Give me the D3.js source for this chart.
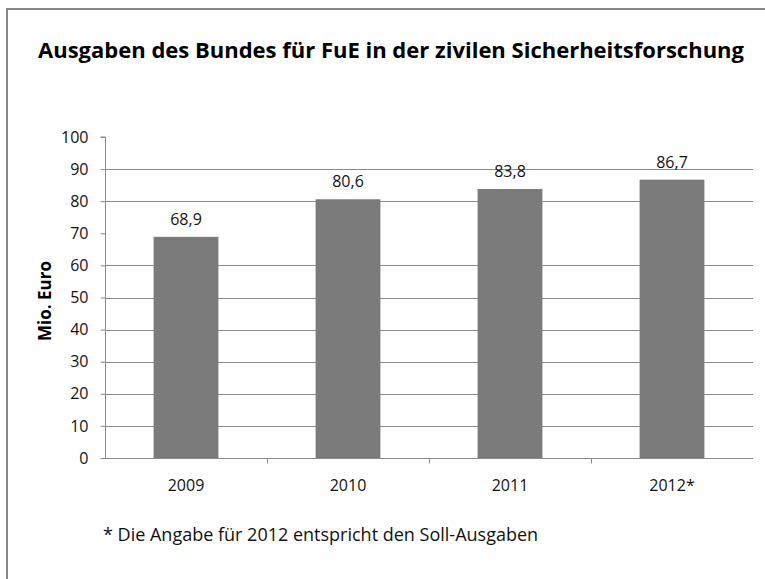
<!DOCTYPE html>
<html><head><meta charset="utf-8">
<script src="https://cdn.jsdelivr.net/npm/d3@7"></script>
<style>body{margin:0;background:#fff}svg{display:block}text{font-family:"Open Sans",sans-serif}</style>
</head><body><svg id="c" width="765" height="579"></svg>
<script>
const categories = ["2009", "2010", "2011", "2012*"];
const values = [68.9, 80.6, 83.8, 86.7];
const valueLabels = ["68,9", "80,6", "83,8", "86,7"];
const yTicks = [0, 10, 20, 30, 40, 50, 60, 70, 80, 90, 100];
const gridTicks = [10, 20, 30, 40, 50, 60, 80, 90];
const title = "Ausgaben des Bundes für FuE in der zivilen Sicherheitsforschung";
const yTitle = "Mio. Euro";
const footnote = "* Die Angabe für 2012 entspricht den Soll-Ausgaben";

(function () {
const svg = d3.select("#c");
const W = 765, H = 579;
const pLeft = 105, pRight = 753, pTop = 137, pBottom = 458;

// outer frame (only top and left edges visible)
svg.append("path").attr("d", `M7,${H} L7,9 L${W},9`).attr("fill", "none")
  .attr("stroke", "#868686").attr("stroke-width", 2);

const x = d3.scaleBand().domain(categories).range([pLeft, pRight]).paddingInner(0.6).paddingOuter(0.3);
const xb = d3.scaleBand().domain(categories).range([pLeft, pRight]);
const y = d3.scaleLinear().domain([0, 100]).range([pBottom, pTop]);

// gridlines
svg.append("g").selectAll("line").data(gridTicks).join("line")
  .attr("x1", pLeft).attr("x2", pRight)
  .attr("y1", d => Math.round(y(d)) + 0.5).attr("y2", d => Math.round(y(d)) + 0.5)
  .attr("stroke", "#8a8a8a").attr("stroke-width", 1);

// bars
svg.append("g").selectAll("rect").data(values).join("rect")
  .attr("x", (d, i) => x(categories[i]))
  .attr("width", x.bandwidth())
  .attr("y", d => y(d))
  .attr("height", d => y(0) - y(d))
  .attr("fill", "#7a7a7a");

// value labels
svg.append("g").selectAll("text").data(values).join("text")
  .attr("x", (d, i) => x(categories[i]) + x.bandwidth() / 2)
  .attr("y", d => y(d) - 12)
  .attr("text-anchor", "middle").attr("font-size", 16).attr("fill", "#111")
  .text((d, i) => valueLabels[i]);

// y axis
const yAxis = d3.axisLeft(y).tickValues(yTicks).tickSize(5).tickPadding(12).tickFormat(d3.format("d"));
const gy = svg.append("g").attr("transform", `translate(${pLeft + 0.5},0)`).call(yAxis);
gy.select(".domain").attr("stroke", "#8a8a8a").attr("d", `M-5,${y(100)}H0V${y(0)}`);
gy.selectAll(".tick line").attr("stroke", "#8a8a8a");
gy.selectAll(".tick text").attr("font-size", 16).attr("fill", "#111").attr("font-family", "Open Sans");

// x axis
const gx = svg.append("g").attr("transform", `translate(0,${Math.round(pBottom) + 0.5})`);
gx.append("line").attr("x1", pLeft).attr("x2", pRight).attr("stroke", "#8a8a8a");
gx.selectAll("line.t").data(categories.slice(1)).join("line").attr("class", "t")
  .attr("x1", d => Math.round(xb(d)) + 0.5).attr("x2", d => Math.round(xb(d)) + 0.5)
  .attr("y1", 0).attr("y2", 5).attr("stroke", "#8a8a8a");
gx.selectAll("text").data(categories).join("text")
  .attr("x", d => xb(d) + xb.bandwidth() / 2).attr("y", 32)
  .attr("text-anchor", "middle").attr("font-size", 16).attr("fill", "#111").text(d => d);

// titles
svg.append("text").attr("x", 391).attr("y", 58).attr("text-anchor", "middle")
  .attr("font-size", 22).attr("font-weight", "bold").attr("fill", "#000").text(title);
svg.append("text").attr("transform", "translate(51,301) rotate(-90)").attr("text-anchor", "middle")
  .attr("font-size", 17).attr("font-weight", "bold").attr("fill", "#000").text(yTitle);
svg.append("text").attr("x", 103).attr("y", 541).attr("font-size", 18).attr("fill", "#111").text(footnote);
})();
</script></body></html>
